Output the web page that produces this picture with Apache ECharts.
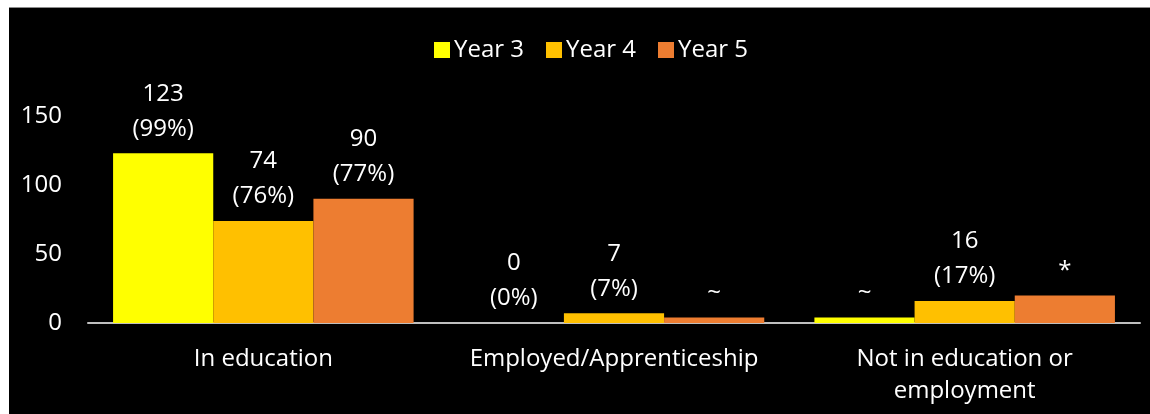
<!DOCTYPE html>
<html>
<head>
<meta charset="utf-8">
<script src="https://cdn.jsdelivr.net/npm/echarts@6/dist/echarts.min.js"></script>
<style>
  html, body { margin: 0; padding: 0; background: #ffffff; width: 1150px; height: 414px; overflow: hidden; }
  #frame { position: absolute; left: 9px; top: 7px; width: 1141px; height: 407px; background: #000; border-top: 1px solid #8c8c8c; box-sizing: border-box; }
  #chart { width: 1141px; height: 406px; }
</style>
</head>
<body>
<div id="frame"><div id="chart"></div></div>
<script>
// Destinations by cohort year
const categories = ["In education", "Employed/Apprenticeship", "Not in education or\nemployment"];
const seriesNames = ["Year 3", "Year 4", "Year 5"];
const year3Values = [123, 0, 4];
const year4Values = [74, 7, 16];
const year5Values = [90, 4, 20];
const year3Labels = ["123\n(99%)", "0\n(0%)", "~"];
const year4Labels = ["74\n(76%)", "7\n(7%)", "16\n(17%)"];
const year5Labels = ["90\n(77%)", "~", "*"];
const yTicks = [0, 50, 100, 150];

const colors = ["#FFFF00", "#FFC000", "#ED7D31"];
const FONT = "'Open Sans', 'Noto Sans', sans-serif";
const FS = 24;

function makeSeries(i, values, labels) {
  return {
    name: seriesNames[i],
    type: "bar",
    barGap: "0%",
    barCategoryGap: "14.3%",
    itemStyle: { color: colors[i] },
    data: values.map((v, k) => ({
      value: v,
      label: { formatter: labels[k] }
    })),
    label: {
      show: true,
      position: "top",
      distance: 7,
      color: "#ffffff",
      fontFamily: FONT,
      fontSize: FS,
      lineHeight: 35
    }
  };
}

const chart = echarts.init(document.getElementById("chart"));
chart.setOption({
  backgroundColor: "#000000",
  animation: false,
  textStyle: { fontFamily: FONT },
  color: colors,
  legend: {
    top: 25,
    left: 420,
    itemWidth: 16,
    itemHeight: 16,
    itemGap: 22,
    itemStyle: { borderWidth: 0 },
    icon: "rect",
    textStyle: { color: "#ffffff", fontSize: FS, fontFamily: FONT, padding: [0, 0, 0, -1] },
    data: seriesNames
  },
  grid: { left: 79, right: 10, top: 108, bottom: 91, containLabel: false },
  xAxis: {
    type: "category",
    data: categories,
    axisLine: { lineStyle: { color: "#bfbfbf", width: 2 } },
    axisTick: { show: false },
    axisLabel: { color: "#ffffff", fontSize: FS, fontFamily: FONT, margin: 20, lineHeight: 32, interval: 0 }
  },
  yAxis: {
    type: "value",
    min: yTicks[0],
    max: yTicks[yTicks.length - 1],
    interval: 50,
    splitLine: { show: false },
    axisLine: { show: false },
    axisTick: { show: false },
    axisLabel: { color: "#ffffff", fontSize: FS, fontFamily: FONT, margin: 26 }
  },
  series: [
    makeSeries(0, year3Values, year3Labels),
    makeSeries(1, year4Values, year4Labels),
    makeSeries(2, year5Values, year5Labels)
  ]
});
</script>
</body>
</html>
